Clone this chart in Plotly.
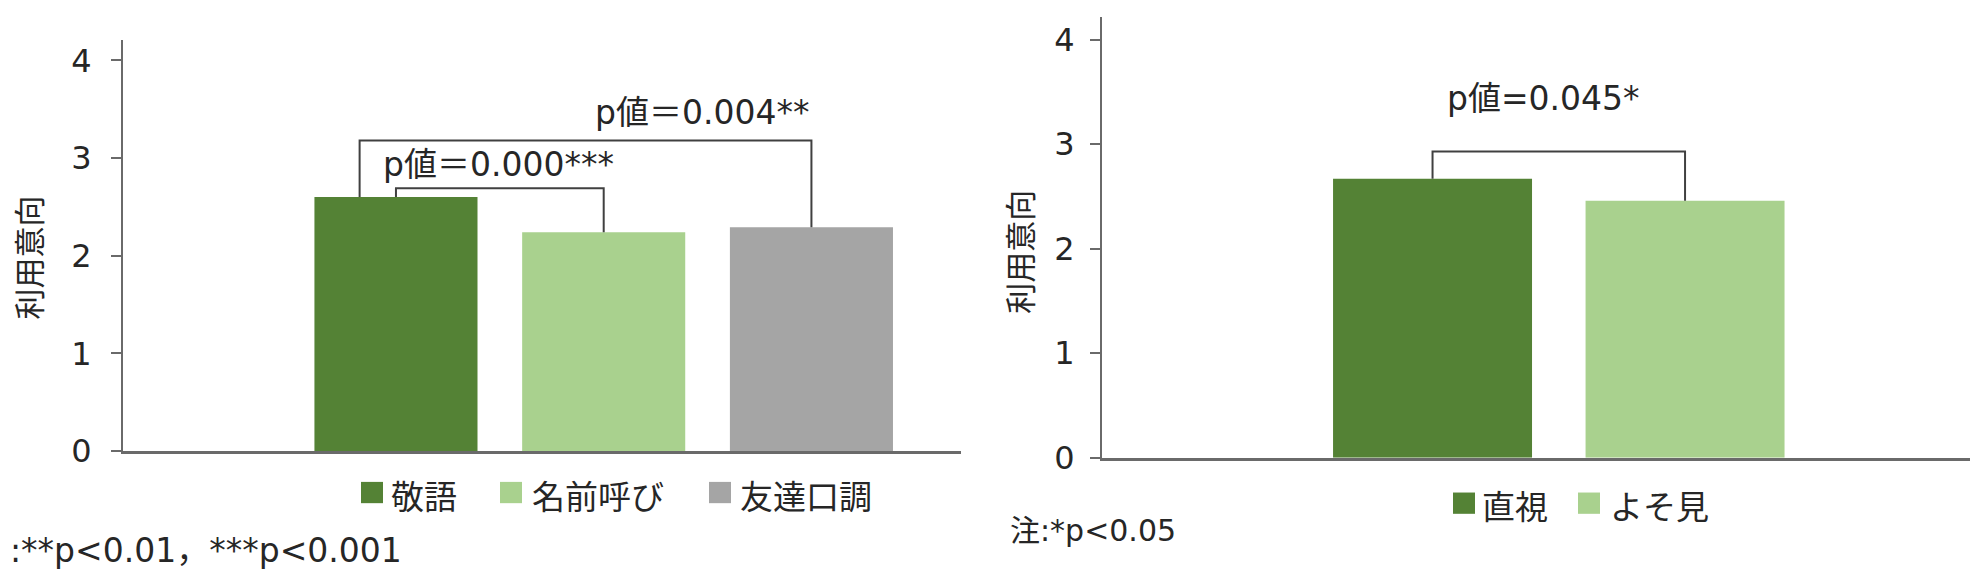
import plotly.graph_objects as go

# 左: 話し方別の利用意向
categories_l = ["敬語", "名前呼び", "友達口調"]
values_l = [2.60, 2.24, 2.29]
# 右: 視線別の利用意向
categories_r = ["直視", "よそ見"]
values_r = [2.67, 2.46]

y_ticks = [0, 1, 2, 3, 4]

# 有意差の括弧 (左の棒, 右の棒, 高さ, ラベル)
brackets_l = [
    (0, 1, 2.69, "p値＝0.000***"),
    (0, 2, 3.18, "p値＝0.004**"),
]
brackets_r = [
    (0, 1, 2.93, "p値=0.045*"),
]
note_l = ":**p<0.01，***p<0.001"
note_r = "注:*p<0.05"
y_title = "利用意向"

colors_l = ["#548235", "#A9D18E", "#A5A5A5"]
colors_r = ["#548235", "#A9D18E"]

W, H = 1978, 578
FONT = "DejaVu Sans, Noto Sans CJK JP, sans-serif"
TXT = "#262626"
AXIS = "#6a6a6a"
LINE = "#404040"


def px(x):
    return x / W


def py(y):
    return 1 - y / H


fig = go.Figure()

# 棒
fig.add_trace(go.Bar(
    x=list(range(len(categories_l))), y=values_l,
    marker=dict(color=colors_l, line=dict(width=0)),
    width=0.785, xaxis="x", yaxis="y", showlegend=False,
))
fig.add_trace(go.Bar(
    x=list(range(len(categories_r))), y=values_r,
    marker=dict(color=colors_r, line=dict(width=0)),
    width=0.788, xaxis="x2", yaxis="y2", showlegend=False,
))


def add_bracket(i, j, level, values, xa, ya, left_off=0.0):
    xs = [i + left_off, i + left_off, j, j]
    ys = [values[i], level, level, values[j]]
    fig.add_trace(go.Scatter(
        x=xs, y=ys, mode="lines", xaxis=xa, yaxis=ya,
        line=dict(color=LINE, width=2), showlegend=False, hoverinfo="skip",
    ))


# 括弧
add_bracket(*brackets_l[0][:3], values_l, "x", "y")
add_bracket(*brackets_l[1][:3], values_l, "x", "y", left_off=-0.175)
add_bracket(*brackets_r[0][:3], values_r, "x2", "y2")

P_FONT = dict(size=33, color=TXT, family=FONT)
annotations = []
annotations.append(dict(
    x=brackets_l[0][0] - 0.07, y=2.93, xref="x", yref="y",
    text=brackets_l[0][3], showarrow=False, xanchor="left", yanchor="middle",
    font=P_FONT,
))
annotations.append(dict(
    x=brackets_l[1][1] + 0.0, y=3.47, xref="x", yref="y",
    text=brackets_l[1][3], showarrow=False, xanchor="right", yanchor="middle",
    font=P_FONT,
))
annotations.append(dict(
    x=0.44, y=3.44, xref="x2", yref="y2",
    text=brackets_r[0][3], showarrow=False, xanchor="center", yanchor="middle",
    font=P_FONT,
))

# 縦軸タイトル
for xc, yc in [(22, 258), (1013, 252)]:
    annotations.append(dict(
        x=px(xc), y=py(yc), xref="paper", yref="paper", text=y_title,
        textangle=-90, showarrow=False, xanchor="center", yanchor="middle",
        font=dict(size=31, color=TXT, family=FONT),
    ))

# 凡例 (手描き)
shapes = []
L_FONT = dict(size=33, color=TXT, family=FONT)
legend_l = [(353, 381), (492, 522), (701, 730)]
legend_r = [(1445, 1472), (1570, 1600)]
for (sx, tx), name, col in zip(legend_l, categories_l, colors_l):
    shapes.append(dict(type="rect", xref="paper", yref="paper",
                       x0=px(sx), x1=px(sx + 22), y0=py(512), y1=py(490),
                       fillcolor=col, line=dict(width=0)))
    annotations.append(dict(x=px(tx), y=py(506), xref="paper", yref="paper",
                            text=name, showarrow=False, xanchor="left", yanchor="middle",
                            font=L_FONT))
for (sx, tx), name, col in zip(legend_r, categories_r, colors_r):
    shapes.append(dict(type="rect", xref="paper", yref="paper",
                       x0=px(sx), x1=px(sx + 22), y0=py(523), y1=py(501),
                       fillcolor=col, line=dict(width=0)))
    annotations.append(dict(x=px(tx), y=py(516), xref="paper", yref="paper",
                            text=name, showarrow=False, xanchor="left", yanchor="middle",
                            font=L_FONT))

# 注
annotations.append(dict(x=0, y=py(561), xref="paper", yref="paper", text=note_l,
                        showarrow=False, xanchor="left", yanchor="middle",
                        font=dict(size=33, color=TXT, family=FONT)))
annotations.append(dict(x=px(1000), y=py(540), xref="paper", yref="paper", text=note_r,
                        showarrow=False, xanchor="left", yanchor="middle",
                        font=dict(size=30, color=TXT, family=FONT)))

yaxis_common = dict(
    tickvals=y_ticks, showgrid=False, zeroline=False, showline=True,
    linecolor=AXIS, linewidth=2, ticks="outside", ticklen=10, tickwidth=1.5,
    tickcolor=AXIS, tickfont=dict(size=32, color=TXT, family=FONT),
)
xaxis_common = dict(
    showgrid=False, zeroline=False, showline=True, linecolor=AXIS, linewidth=2.5,
    showticklabels=False, ticks="",
)

fig.update_layout(
    width=W, height=H,
    margin=dict(l=0, r=0, t=0, b=0),
    paper_bgcolor="white", plot_bgcolor="white",
    xaxis=dict(domain=[px(115), px(953)], range=[-1.314, 2.72], anchor="y", **xaxis_common),
    yaxis=dict(domain=[py(458), py(33)], range=[0, 4.21], anchor="x",
               ticklabelstandoff=13, **yaxis_common),
    xaxis2=dict(domain=[px(1094), px(1974)], range=[-1.309, 2.176], anchor="y2", **xaxis_common),
    yaxis2=dict(domain=[py(465), py(9)], range=[0, 4.22], anchor="x2",
                ticklabelstandoff=9, **yaxis_common),
    annotations=annotations,
    shapes=shapes,
    showlegend=False,
)

fig.write_html("out.html")
